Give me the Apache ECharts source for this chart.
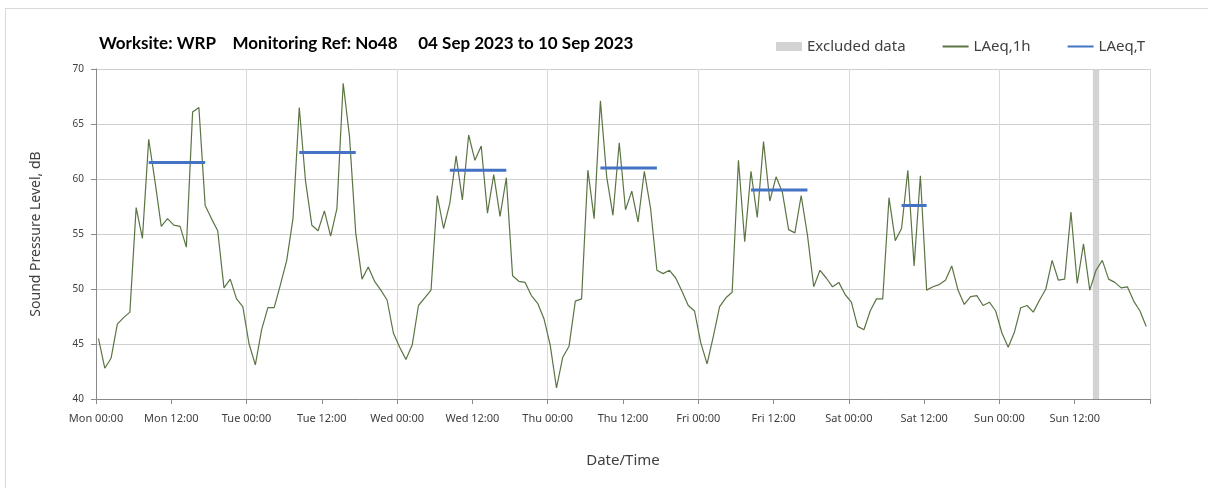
<!DOCTYPE html>
<html>
<head>
<meta charset="utf-8">
<script src="https://cdn.jsdelivr.net/npm/echarts@6/dist/echarts.min.js"></script>
<style>
html,body{margin:0;padding:0;background:#fff;}
#wrap{position:relative;width:1208px;height:488px;overflow:hidden;}
#frame{position:absolute;left:5px;top:8px;width:1300px;height:600px;border:1px solid #d9d9d9;}
#main{position:absolute;left:0;top:0;width:1208px;height:488px;}
</style>
</head>
<body>
<div id="wrap"><div id="frame"></div><div id="main"></div></div>
<script>
// LAeq,1h hourly values, one array per day (00:00 .. 23:00)
var mon = [45.5, 42.8, 43.7, 46.8, 47.4, 47.9, 57.4, 54.6, 63.6, 59.8, 55.7, 56.4, 55.8, 55.7, 53.8, 66.1, 66.5, 57.6, 56.4, 55.3, 50.1, 50.9, 49.1, 48.4];
var tue = [45.0, 43.1, 46.3, 48.3, 48.3, 50.4, 52.6, 56.4, 66.5, 59.8, 55.8, 55.3, 57.1, 54.8, 57.3, 68.7, 63.9, 55.1, 50.9, 52.0, 50.7, 49.9, 49.0, 46.0];
var wed = [44.7, 43.6, 44.9, 48.5, 49.2, 49.9, 58.5, 55.5, 57.8, 62.1, 58.1, 64.0, 61.7, 63.0, 56.9, 60.4, 56.6, 60.1, 51.2, 50.7, 50.6, 49.4, 48.7, 47.3];
var thu = [44.9, 41.0, 43.8, 44.8, 48.9, 49.1, 60.8, 56.4, 67.1, 60.2, 56.7, 63.3, 57.2, 58.9, 56.1, 60.7, 57.3, 51.7, 51.4, 51.7, 51.0, 49.8, 48.5, 48.0];
var fri = [45.1, 43.2, 45.7, 48.4, 49.2, 49.7, 61.7, 54.3, 60.7, 56.5, 63.4, 58.0, 60.2, 58.8, 55.4, 55.1, 58.5, 54.9, 50.2, 51.7, 51.0, 50.2, 50.6, 49.5];
var sat = [48.8, 46.6, 46.3, 48.0, 49.1, 49.1, 58.3, 54.4, 55.5, 60.8, 52.1, 60.3, 49.9, 50.2, 50.4, 50.8, 52.1, 49.9, 48.6, 49.3, 49.4, 48.5, 48.8, 48.0];
var sun = [46.0, 44.7, 46.1, 48.3, 48.5, 47.9, 49.0, 50.0, 52.6, 50.8, 50.9, 57.0, 50.5, 54.1, 49.9, 51.7, 52.6, 50.9, 50.6, 50.1, 50.2, 48.9, 48.0, 46.6];

// LAeq,T daytime periods (hour index from Mon 00:00)
var tStart = [8, 32, 56, 80, 104, 128];
var tEnd = [17, 41, 65, 89, 113, 132];
var tValues = [61.5, 62.4, 60.8, 61.0, 59.0, 57.6];

// excluded hour index
var excludedHour = 159;

var tickLabels = ['Mon 00:00', 'Mon 12:00', 'Tue 00:00', 'Tue 12:00', 'Wed 00:00', 'Wed 12:00', 'Thu 00:00',
	'Thu 12:00', 'Fri 00:00', 'Fri 12:00', 'Sat 00:00', 'Sat 12:00', 'Sun 00:00', 'Sun 12:00', ''];

var OFFSET = 0.4; // points sit slightly after the hour tick

var hourly = [].concat(mon, tue, wed, thu, fri, sat, sun);
var lineData = hourly.map(function (v, i) {
	return [i + OFFSET, v];
});

var tData = [];
for (var k = 0; k < tValues.length; k++) {
	tData.push([tStart[k] + OFFSET, tValues[k]]);
	tData.push([tEnd[k] + OFFSET, tValues[k]]);
	tData.push([tEnd[k] + OFFSET + 1, '-']);
}

var axisGrey = '#898989';
var textGrey = '#404040';

var myChart = echarts.init(document.getElementById('main'));

myChart.setOption({
	animation : false,
	title : {
		text : 'Worksite: WRP    Monitoring Ref: No48     04 Sep 2023 to 10 Sep 2023',
		left : 94,
		top : 30,
		textStyle : {
			fontFamily : 'Lato',
			fontWeight : 'bold',
			fontSize : 17,
			color : '#000'
		}
	},
	legend : {
		left : 771,
		top : 34,
		itemWidth : 26,
		itemHeight : 9,
		itemGap : 36,
		textStyle : {
			fontFamily : 'Noto Sans',
			fontSize : 15,
			color : textGrey
		},
		data : [ {
			name : 'Excluded data',
			icon : 'rect'
		}, {
			name : 'LAeq,1h',
			itemStyle : { opacity : 0 }
		}, {
			name : 'LAeq,T',
			itemStyle : { opacity : 0 }
		} ]
	},
	grid : {
		left : 96,
		right : 58,
		top : 69,
		bottom : 89,
		containLabel : false,
		outerBoundsMode : 'none'
	},
	xAxis : [ {
		type : 'value',
		min : 0,
		max : 168,
		interval : 12,
		name : 'Date/Time',
		nameLocation : 'middle',
		nameGap : 54,
		nameTextStyle : {
			fontFamily : 'Noto Sans',
			fontSize : 15,
			color : textGrey
		},
		axisLine : {
			lineStyle : { color : axisGrey }
		},
		axisTick : {
			show : true,
			length : 5,
			lineStyle : { color : axisGrey }
		},
		axisLabel : {
			fontFamily : 'Noto Sans',
			fontSize : 11,
			color : textGrey,
			margin : 14,
			formatter : function(value) {
				return tickLabels[Math.round(value / 12)] || '';
			}
		},
		splitLine : { show : false }
	}, {
		// day boundary grid lines only
		type : 'value',
		min : 0,
		max : 168,
		interval : 24,
		position : 'top',
		axisLine : { show : false },
		axisTick : { show : false },
		axisLabel : { show : false },
		splitLine : {
			show : true,
			lineStyle : { color : '#d9d9d9' }
		}
	} ],
	yAxis : {
		type : 'value',
		min : 40,
		max : 70,
		interval : 5,
		name : 'Sound Pressure Level, dB',
		nameLocation : 'middle',
		nameRotate : 90,
		nameGap : 53,
		nameTextStyle : {
			fontFamily : 'Noto Sans',
			fontSize : 14,
			color : textGrey
		},
		axisLine : {
			show : true,
			lineStyle : { color : axisGrey }
		},
		axisTick : {
			show : true,
			length : 5,
			lineStyle : { color : axisGrey }
		},
		axisLabel : {
			fontFamily : 'Noto Sans',
			fontSize : 10,
			color : textGrey,
			margin : 12
		},
		splitLine : {
			lineStyle : { color : '#cfcfcf' }
		}
	},
	series : [ {
		name : 'Excluded data',
		type : 'line',
		data : [],
		color : '#d3d3d3',
		markArea : {
			silent : true,
			itemStyle : { color : '#d3d3d3', opacity : 1 },
			data : [ [ { xAxis : excludedHour + OFFSET - 0.5 }, { xAxis : excludedHour + OFFSET + 0.5 } ] ]
		}
	}, {
		name : 'LAeq,1h',
		type : 'line',
		data : lineData,
		symbol : 'none',
		color : '#5b7444',
		lineStyle : { color : '#5b7444', width : 1.2 }
	}, {
		name : 'LAeq,T',
		type : 'line',
		data : tData,
		symbol : 'none',
		color : '#4472c4',
		lineStyle : { color : '#4472c4', width : 3 }
	} ]
});
</script>
</body>
</html>
